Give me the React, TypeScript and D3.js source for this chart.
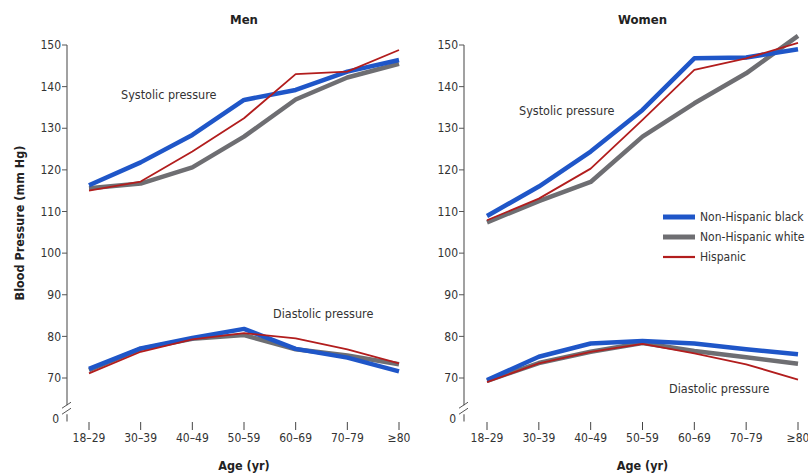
import * as d3 from "d3"

const ageGroups = ["18–29", "30–39", "40–49", "50–59", "60–69", "70–79", "≥80"]
const yTicks = [70, 80, 90, 100, 110, 120, 130, 140, 150]

// men
const menSysBlack = [116.3, 121.8, 128.4, 136.8, 139.2, 143.6, 146.4]
const menSysWhite = [115.6, 116.7, 120.6, 128.0, 136.9, 142.2, 145.5]
const menSysHisp = [115.0, 117.2, 124.4, 132.4, 143.0, 143.6, 148.8]
const menDiaBlack = [72.2, 77.1, 79.6, 81.8, 77.0, 74.9, 71.6]
const menDiaWhite = [71.9, 77.0, 79.4, 80.3, 76.9, 75.4, 73.3]
const menDiaHisp = [71.1, 76.3, 79.3, 80.8, 79.5, 76.9, 73.5]

// women
const womenSysBlack = [108.9, 116.0, 124.4, 134.4, 146.8, 147.0, 149.0]
const womenSysWhite = [107.4, 112.5, 117.1, 128.0, 136.0, 143.2, 152.2]
const womenSysHisp = [107.9, 113.1, 120.3, 132.0, 144.0, 146.8, 150.5]
const womenDiaBlack = [69.5, 75.1, 78.3, 78.9, 78.3, 76.9, 75.7]
const womenDiaWhite = [69.3, 73.6, 76.3, 78.4, 76.5, 75.0, 73.4]
const womenDiaHisp = [69.0, 73.5, 76.3, 78.2, 75.9, 73.3, 69.6]

const groups = ["Non-Hispanic black", "Non-Hispanic white", "Hispanic"]
const colors = ["#1f56c8", "#6e6e72", "#b21d1d"]
const widths = [4.5, 4.5, 1.8]

const font = "'DejaVu Sans Condensed', 'Roboto', sans-serif"

const y = d3.scaleLinear().domain([70, 150]).range([378, 45])
const yZero = y(60.3)

type PanelProps = {
  title: string
  axisX: number
  range: [number, number]
  series: number[][]
  sysLabel: [number, number]
  diaLabel: [number, number]
}

function Panel({ title, axisX, range, series, sysLabel, diaLabel }: PanelProps) {
  const x = d3.scalePoint<string>().domain(ageGroups).range(range)
  const line = d3
    .line<number>()
    .x((_, i) => x(ageGroups[i])!)
    .y((d) => y(d))
  const mid = (range[0] + range[1]) / 2
  const breakY = y(62.5)
  const order = [1, 0, 2]
  return (
    <g fontFamily={font}>
      <text x={mid} y={24} textAnchor="middle" fontSize={13} fontWeight="bold" fill="#222">
        {title}
      </text>
      {/* y axis */}
      <line x1={axisX} x2={axisX} y1={y(150)} y2={breakY - 4} stroke="#8a8a8a" strokeWidth={1.6} />
      <line x1={axisX} x2={axisX} y1={breakY + 5} y2={yZero + 3} stroke="#8a8a8a" strokeWidth={1.6} />
      <line x1={axisX - 5} x2={axisX + 4} y1={breakY - 1} y2={breakY - 7} stroke="#555" strokeWidth={1} />
      <line x1={axisX - 5} x2={axisX + 4} y1={breakY + 5} y2={breakY - 1} stroke="#555" strokeWidth={1} />
      {yTicks.map((t) => (
        <g key={t}>
          <line x1={axisX - 5} x2={axisX} y1={y(t)} y2={y(t)} stroke="#555" strokeWidth={1} />
          <text x={axisX - 6} y={y(t)} dy="0.35em" textAnchor="end" fontSize={12} fill="#333">
            {t}
          </text>
        </g>
      ))}
      <text x={axisX - 8} y={yZero} dy="0.35em" textAnchor="end" fontSize={12} fill="#333">
        0
      </text>
      {/* x ticks */}
      {ageGroups.map((g) => (
        <g key={g}>
          <line x1={x(g)} x2={x(g)} y1={422} y2={430} stroke="#444" strokeWidth={1} />
          <text x={x(g)} y={442} textAnchor="middle" fontSize={12} fill="#333">
            {g}
          </text>
        </g>
      ))}
      <text x={mid} y={470} textAnchor="middle" fontSize={12.5} fontWeight="bold" fill="#222">
        Age (yr)
      </text>
      {/* lines */}
      {order.map((k) => (
        <g key={k}>
          <path d={line(series[k])!} fill="none" stroke={colors[k]} strokeWidth={widths[k]} strokeLinejoin="round" />
          <path d={line(series[k + 3])!} fill="none" stroke={colors[k]} strokeWidth={widths[k]} strokeLinejoin="round" />
        </g>
      ))}
      <text x={sysLabel[0]} y={sysLabel[1]} fontSize={12.5} fill="#333">
        Systolic pressure
      </text>
      <text x={diaLabel[0]} y={diaLabel[1]} fontSize={12.5} fill="#333">
        Diastolic pressure
      </text>
    </g>
  )
}

export default function App() {
  const legendY = d3.scalePoint<string>().domain(groups).range([217, 257])
  return (
    <div style={{ position: "absolute", left: 0, top: 0 }}>
      <svg width={808} height={474} style={{ display: "block", background: "#fff" }}>
        <text
          transform={`translate(24,${223}) rotate(-90)`}
          textAnchor="middle"
          fontFamily={font}
          fontSize={12.5}
          fontWeight="bold"
          fill="#222"
        >
          Blood Pressure (mm Hg)
        </text>
        <Panel
          title="Men"
          axisX={67}
          range={[89, 399]}
          series={[menSysBlack, menSysWhite, menSysHisp, menDiaBlack, menDiaWhite, menDiaHisp]}
          sysLabel={[121, 99]}
          diaLabel={[273, 318]}
        />
        <Panel
          title="Women"
          axisX={464}
          range={[487, 798]}
          series={[womenSysBlack, womenSysWhite, womenSysHisp, womenDiaBlack, womenDiaWhite, womenDiaHisp]}
          sysLabel={[519, 115]}
          diaLabel={[669, 393]}
        />
        <g fontFamily={font}>
          {groups.map((g, i) => (
            <g key={g}>
              <line
                x1={663}
                x2={695}
                y1={legendY(g)}
                y2={legendY(g)}
                stroke={colors[i]}
                strokeWidth={i < 2 ? 5 : 2.2}
              />
              <text x={700} y={legendY(g)} dy="0.35em" fontSize={12} fill="#333">
                {g}
              </text>
            </g>
          ))}
        </g>
      </svg>
    </div>
  )
}
